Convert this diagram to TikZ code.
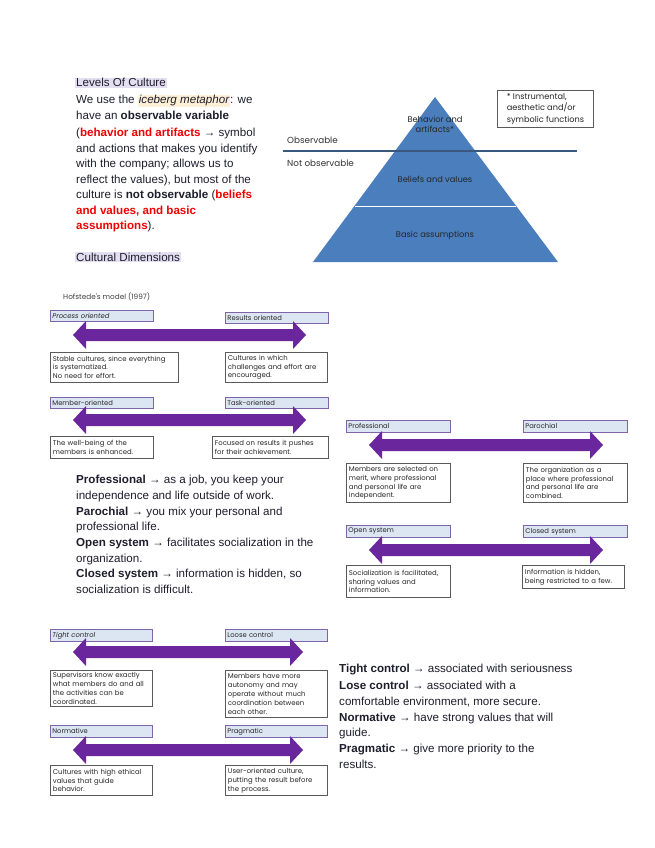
\documentclass[tikz,border=0pt]{standalone}
\usepackage{fontspec}
\setmainfont{Liberation Sans}
\newfontfamily\gothic{Poppins}
\definecolor{ink}{RGB}{30,30,45}
\definecolor{redt}{RGB}{240,0,0}
\definecolor{lav}{RGB}{228,223,240}
\definecolor{hly}{RGB}{253,240,214}
\definecolor{pyr}{RGB}{74,126,189}
\definecolor{divl}{RGB}{58,88,125}
\definecolor{arrp}{RGB}{106,38,157}
\definecolor{labfill}{RGB}{220,230,242}
\definecolor{labdraw}{RGB}{128,100,170}
\definecolor{boxd}{RGB}{90,90,90}
\newcommand\dblarrow[3]{\fill[arrp] (#1,#3) -- (#1+13,#3-14) -- (#1+13,#3-6) -- (#2-13,#3-6) -- (#2-13,#3-14) -- (#2,#3) -- (#2-13,#3+14) -- (#2-13,#3+6) -- (#1+13,#3+6) -- (#1+13,#3+14) -- cycle;}
\begin{document}
\begin{tikzpicture}[x=1pt,y=-1pt,
  mt/.style={anchor=base west,inner sep=0,text=ink,font=\fontsize{11.6}{14}\selectfont},
  lab/.style={anchor=north west,draw=labdraw,fill=labfill,line width=0.8,inner xsep=2,inner ysep=0,align=left,font=\gothic\fontsize{6.8}{7}\selectfont,text=black!85},
  desc/.style={anchor=north west,draw=boxd,fill=white,line width=0.8,inner xsep=2.5,inner ysep=2,align=left,font=\gothic\fontsize{6.9}{8.9}\selectfont,text=black!85},
  pt/.style={font=\gothic\fontsize{8.3}{10}\selectfont,text=black!85,align=center,inner sep=0},
  obs/.style={anchor=base west,font=\gothic\fontsize{8.8}{10}\selectfont,text=black!80,inner sep=0}]
\useasboundingbox (0,0) rectangle (655,848);
\fill[white] (0,0) rectangle (655,848);
\setlength{\fboxsep}{1pt}
% ---- top text
\node[mt] (l1) at (75,87) {\colorbox{lav}{Levels Of Culture}};
\node[mt] (l2) at (76,104) {We use the \colorbox{hly}{\itshape iceberg metaphor}: we};
\node[mt] (l3) at (76,120) {have an \textbf{observable variable}};
\node[mt] (l4) at (76,136) {(\textcolor{redt}{\textbf{behavior and artifacts}} → symbol};
\node[mt] (l5) at (76,152) {and actions that makes you identify};
\node[mt] (l6) at (76,167) {with the company; allows us to};
\node[mt] (l7) at (76,183) {reflect the values), but most of the};
\node[mt] (l8) at (76,198) {culture is \textbf{not observable} (\textcolor{redt}{\textbf{beliefs}}};
\node[mt] (l9) at (76,214) {\textcolor{redt}{\textbf{and values, and basic}}};
\node[mt] (l10) at (76,229) {\textcolor{redt}{\textbf{assumptions}}).};
\node[mt] (l11) at (75,261) {\colorbox{lav}{Cultural Dimensions}};
% ---- pyramid
\fill[pyr] (435,97) -- (558,262) -- (313,262) -- cycle;
\draw[white,line width=1] (354.5,206) -- (515.5,206);
\draw[divl,line width=1.1] (283,151) -- (577,151);
\node[obs] (ob) at (287,143) {Observable};
\node[obs] (nob) at (287,166) {Not observable};
\node[pt] (p1) at (435,124) {Behavior and\\artifacts*};
\node[pt] (p2) at (435,179) {Beliefs and values};
\node[pt] (p3) at (435,235) {Basic assumptions};
\node[anchor=north west,draw=boxd,line width=0.9,minimum width=96,minimum height=37,inner xsep=3,inner ysep=1.5,align=left,font=\gothic\fontsize{8.2}{11.5}\selectfont,text=black!85] (fn) at (497,90) {* Instrumental,\\aesthetic and/or\\symbolic functions};
% ---- Hofstede chart A/B
\node[anchor=west,inner sep=0,font=\gothic\fontsize{7.3}{8}\selectfont,text=black!75] (hof) at (63,297) {Hofstede's model (1997)};
\node[lab,text width=99,minimum height=11] (a1) at (50,310) {\itshape Process oriented};
\node[lab,text width=99,minimum height=11] (a2) at (225,312) {Results oriented};
\dblarrow{73}{306}{335}
\node[desc,text width=123,minimum height=30] (da1) at (50,352) {Stable cultures, since everything\\is systematized.\\No need for effort.};
\node[desc,text width=97,minimum height=30] (da2) at (225,352) {Cultures in which\\challenges and effort are\\encouraged.};
\node[lab,text width=99,minimum height=11] (b1) at (50,397) {Member-oriented};
\node[lab,text width=99,minimum height=11] (b2) at (225,397) {Task-oriented};
\dblarrow{73}{306}{420}
\node[desc,text width=98,minimum height=22] (db1) at (50,436) {The well-being of the\\members is enhanced.};
\node[desc,text width=111,minimum height=22] (db2) at (212,436) {Focused on results it pushes\\for their achievement.};
% ---- chart C/D
\node[lab,text width=100,minimum height=12] (c1) at (346,420) {Professional};
\node[lab,text width=100,minimum height=12] (c2) at (523,420) {Parochial};
\dblarrow{369}{603}{445}
\node[desc,text width=99,minimum height=39] (dc1) at (346,463) {Members are selected on\\merit, where professional\\and personal life are\\independent.};
\node[desc,text width=99,minimum height=39] (dc2) at (523,463) {The organization as a\\place where professional\\and personal life are\\combined.};
\node[lab,text width=100,minimum height=12] (d1) at (346,525) {Open system};
\node[lab,text width=100,minimum height=12] (d2) at (523,525) {Closed system};
\dblarrow{369}{603}{550}
\node[desc,text width=99,minimum height=32] (dd1) at (346,565) {Socialization is facilitated,\\sharing values and\\information.};
\node[desc,text width=97,minimum height=23] (dd2) at (522,565) {Information is hidden,\\being restricted to a few.};
% ---- middle text
\node[mt] (m1) at (76,483) {\textbf{Professional} → as a job, you keep your};
\node[mt] (m2) at (76,499) {independence and life outside of work.};
\node[mt] (m3) at (76,515) {\textbf{Parochial} → you mix your personal and};
\node[mt] (m4) at (76,530) {professional life.};
\node[mt] (m5) at (76,546) {\textbf{Open system} → facilitates socialization in the};
\node[mt] (m6) at (76,562) {organization.};
\node[mt] (m7) at (76,577) {\textbf{Closed system} → information is hidden, so};
\node[mt] (m8) at (76,593) {socialization is difficult.};
% ---- chart E/F
\node[lab,text width=98,minimum height=12] (e1) at (50,629) {\itshape Tight control};
\node[lab,text width=98,minimum height=12] (e2) at (225,629) {Loose control};
\dblarrow{73}{303}{652}
\node[desc,text width=97,minimum height=32] (de1) at (50,670) {Supervisors know exactly\\what members do and all\\the activities can be\\coordinated.};
\node[desc,text width=97,minimum height=47] (de2) at (225,670) {Members have more\\autonomy and may\\operate without much\\coordination between\\each other.};
\node[lab,text width=98,minimum height=12] (f1) at (50,725) {Normative};
\node[lab,text width=98,minimum height=12] (f2) at (225,725) {Pragmatic};
\dblarrow{73}{303}{750}
\node[desc,text width=97,minimum height=30] (df1) at (50,765) {Cultures with high ethical\\values that guide\\behavior.};
\node[desc,text width=97,minimum height=30] (df2) at (225,765) {User-oriented culture,\\putting the result before\\the process.};
% ---- bottom-right text
\node[mt] (r1) at (339,672) {\textbf{Tight control} → associated with seriousness};
\node[mt] (r2) at (339,689) {\textbf{Lose control} → associated with a};
\node[mt] (r3) at (339,705) {comfortable environment, more secure.};
\node[mt] (r4) at (339,721) {\textbf{Normative} → have strong values that will};
\node[mt] (r5) at (339,736) {guide.};
\node[mt] (r6) at (339,752) {\textbf{Pragmatic} → give more priority to the};
\node[mt] (r7) at (339,768) {results.};
\end{tikzpicture}
\end{document}
